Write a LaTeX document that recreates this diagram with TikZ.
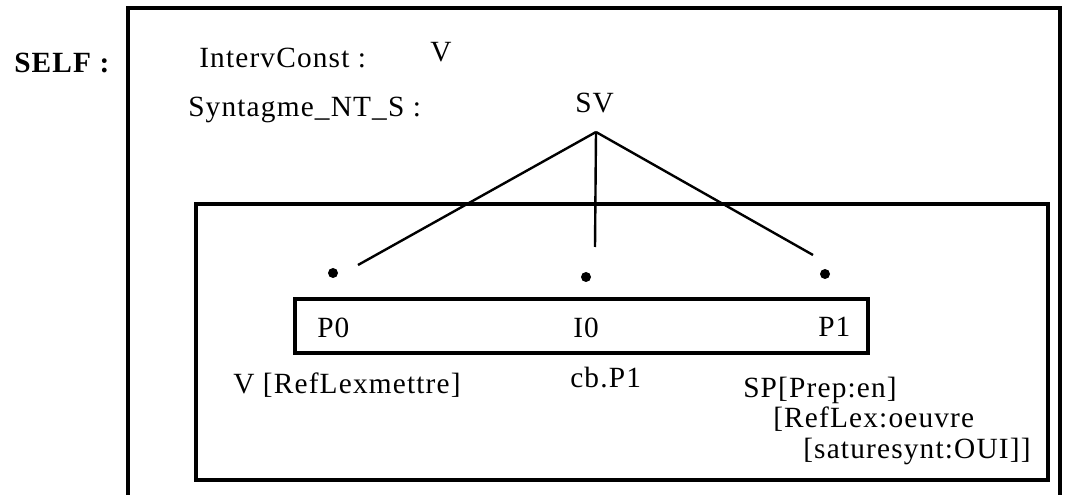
\documentclass[tikz,border=0pt]{standalone}
\usepackage{fontspec}
\setmainfont[LetterSpace=4]{Liberation Serif}
\usetikzlibrary{positioning,calc}

\begin{document}
\begin{tikzpicture}[
    x=0.75pt, y=-0.75pt,
    font=\fontsize{22}{26}\selectfont,
    lbl/.style   ={inner sep=0pt, anchor=base west},
    frame/.style ={draw, line width=2.4pt},
    branch/.style={line width=1.8pt},
    dot/.style   ={circle, fill, inner sep=0pt, minimum size=7.5pt},
]
\useasboundingbox (0,0) rectangle (1078,495);

% ============================================================
% FRAMES
% ============================================================
\draw[frame] (128,505) -- (128,8) -- (1060,8) -- (1060,505);
\draw[frame] (196,204) rectangle (1048,480);
\node[frame, inner sep=0pt, minimum width=429.75pt, minimum height=40.5pt]
    (rowbox) at (581.5,326) {};

% ============================================================
% HEADER
% ============================================================
\node[lbl, font=\fontsize{22}{26}\selectfont\bfseries] (self) at (14,73) {SELF :};
\node[lbl] (intervc) at (199,68)  {IntervConst :};
\node[lbl] (intervv) at (430,62)  {V};
\node[lbl] (synt)    at (188,117) {Syntagme\_NT\_S :};
\node[lbl] (sv)      at (575,113) {SV};

% ============================================================
% TREE
% ============================================================
\coordinate (apex) at (596,132);
\node[dot] (d0) at (333,273) {};
\node[dot] (d1) at (586,277) {};
\node[dot] (d2) at (825,274) {};

\coordinate (e0) at (358,265);
\coordinate (e1) at (595,247);
\coordinate (e2) at (813,255);

\draw[branch] (apex) -- (e0);
\draw[branch] (apex) -- (e1);
\draw[branch] (apex) -- (e2);

% ============================================================
% ROW + LABELS
% ============================================================
\node[lbl] (p0) at (317,338) {P0};
\node[lbl] (i0) at (573,338) {I0};
\node[lbl] (p1) at (818,336) {P1};

\node[lbl] (lblv)  at (233,393) {V [RefLexmettre]};
\node[lbl] (lblcb) at (570,387) {cb.P1};
\node[lbl] (lblsp) at (743,397) {SP[Prep:en]};
\node[lbl] (lblrl) at (773,427) {[RefLex:oeuvre};
\node[lbl] (lblst) at (803,458) {[saturesynt:OUI]]};

\end{tikzpicture}
\end{document}
